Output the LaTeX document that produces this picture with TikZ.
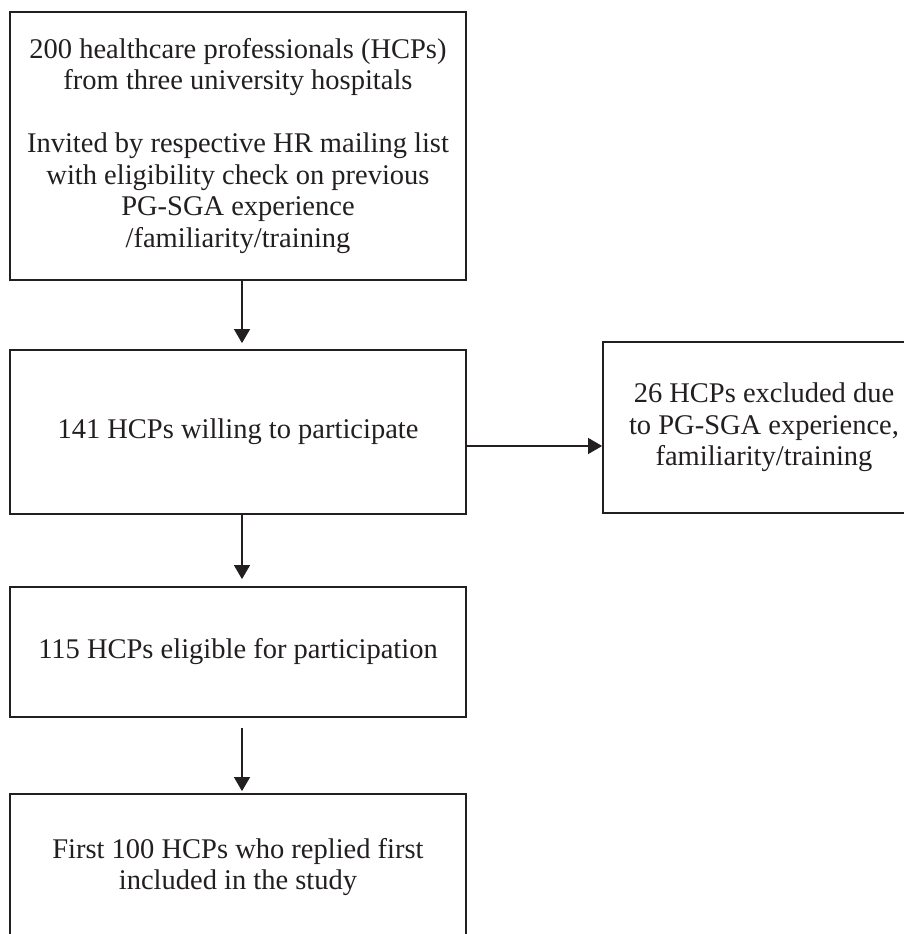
\documentclass[tikz,border=0pt]{standalone}
\usepackage{fontspec}
\setmainfont{Liberation Serif}
\usetikzlibrary{arrows.meta}
\definecolor{ink}{RGB}{35,31,32}
\begin{document}
\begin{tikzpicture}[x=1pt,y=-1pt,
  box/.style={draw=ink, line width=1.8pt, inner sep=0pt, align=center,
    font=\fontsize{28.5}{31.5}\selectfont, text=ink},
  conn/.style={draw=ink, line width=1.2pt, -{Triangle[width=16pt,length=14pt]}}]
\useasboundingbox (0,0) rectangle (903,934);
\node[box, minimum width=456pt, minimum height=268pt] (b1) at (238,146)
  {200 healthcare professionals (HCPs)\\ from three university hospitals\\[31.5pt]
   Invited by respective HR mailing list\\ with eligibility check on previous\\
   PG-SGA experience\\ /familiarity/training};
\node[box, minimum width=456pt, minimum height=164pt] (b2) at (238,432)
  {141 HCPs willing to participate};
\node[box, minimum width=322pt, minimum height=171pt] (b3) at (764,427.5)
  {26 HCPs excluded due\\ to PG-SGA experience,\\ familiarity/training};
\node[box, minimum width=456pt, minimum height=130pt] (b4) at (238,652)
  {115 HCPs eligible for participation};
\node[box, minimum width=456pt, minimum height=146pt] (b5) at (238,867)
  {First 100 HCPs who replied first\\ included in the study};
\draw[conn] ([xshift=4pt]b1.south) -- ([xshift=4pt,yshift=6pt]b2.north);
\coordinate (r) at ([yshift=-14pt]b2.east);
\draw[conn] (r) -- (r -| b3.west);
\draw[conn] ([xshift=4pt]b2.south) -- ([xshift=4pt,yshift=7pt]b4.north);
\draw[conn] ([xshift=4pt,yshift=-10pt]b4.south) -- ([xshift=4pt,yshift=2pt]b5.north);
\end{tikzpicture}
\end{document}
